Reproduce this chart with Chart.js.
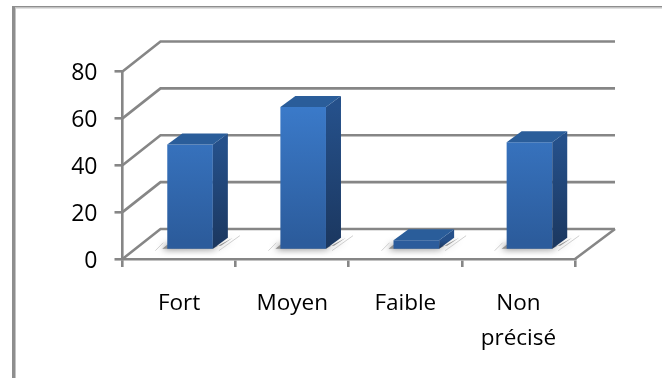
<!DOCTYPE html>
<html>
<head>
<meta charset="utf-8">
<style>
  body { margin: 0; background: #fff; }
  canvas { display: block; }
</style>
<script src="https://cdn.jsdelivr.net/npm/chart.js@4"></script>
</head>
<body>
<canvas id="chart" width="662" height="378"></canvas>
<script>
const categories = ['Fort', 'Moyen', 'Faible', ['Non', 'précisé']];
const values = [45, 61, 4.2, 46];
const yTicks = [0, 20, 40, 60, 80];

const GREY = '#868686';
const WALL_DX = 38, WALL_DY = -30;     // how far the back wall sits behind the axis
const BAR_DX = 11, BAR_DY = -9;        // bars stand in the middle of the floor
const SIDE_DX = 15, SIDE_DY = -11;     // depth of a bar

// frame around the chart, only left and top show
const framePlugin = {
  id: 'frame',
  beforeDraw(chart) {
    const ctx = chart.ctx;
    ctx.save();
    ctx.fillStyle = '#8e8e8e';
    ctx.fillRect(12, 6, 3, 372);
    ctx.fillRect(12, 6, 650, 1.5);
    ctx.fillStyle = '#c4c4c4';
    ctx.fillRect(15, 7, 1, 371);
    ctx.fillRect(15, 7.5, 647, 1);
    ctx.restore();
  }
};

// back wall, side wall and floor lines
const wallPlugin = {
  id: 'walls',
  beforeDatasetsDraw(chart) {
    const ctx = chart.ctx;
    const { left, right, bottom } = chart.chartArea;
    ctx.save();
    ctx.strokeStyle = GREY;
    ctx.lineWidth = 2.6;
    yTicks.forEach(t => {
      const y = chart.scales.y.getPixelForValue(t);
      ctx.beginPath();
      ctx.moveTo(left, y);
      ctx.lineTo(left + WALL_DX, y + WALL_DY);
      ctx.lineTo(right + 40, y + WALL_DY);
      ctx.stroke();
    });
    ctx.beginPath();
    ctx.moveTo(right, bottom);
    ctx.lineTo(right + 40, bottom + WALL_DY);
    ctx.stroke();
    ctx.restore();
  }
};

// turns the flat bars into boxes with a small shadow on the floor
const boxPlugin = {
  id: 'boxes',
  beforeDatasetDraw(chart) {
    const ctx = chart.ctx;
    const bars = chart.getDatasetMeta(0).data;
    ctx.save();
    ctx.translate(BAR_DX, BAR_DY);
    bars.forEach(bar => {
      const l = bar.x - bar.width / 2, r = bar.x + bar.width / 2, b = bar.base;
      // white patch on the floor
      ctx.fillStyle = '#ffffff';
      ctx.beginPath();
      ctx.moveTo(l - 12, b + 2);
      ctx.lineTo(l, b - 9);
      ctx.lineTo(r + 27, b - 14);
      ctx.lineTo(r + 10, b + 2);
      ctx.closePath();
      ctx.fill();
      // soft shadow
      ctx.save();
      ctx.shadowColor = 'rgba(0,0,0,0.7)';
      ctx.shadowBlur = 7;
      ctx.fillStyle = '#8f8f8f';
      ctx.beginPath();
      ctx.moveTo(l - 5, b);
      ctx.lineTo(r, b);
      ctx.lineTo(r + SIDE_DX + 5, b + SIDE_DY);
      ctx.lineTo(r + 8, b - 3);
      ctx.lineTo(l, b - 4);
      ctx.closePath();
      ctx.fill();
      ctx.restore();
      // thin outlines of the patch
      ctx.strokeStyle = '#cfcfcf';
      ctx.lineWidth = 1;
      ctx.beginPath();
      ctx.moveTo(l - 12, b + 2);
      ctx.lineTo(l - 4, b - 6);
      ctx.moveTo(r + 6, b + 2);
      ctx.lineTo(r + 27, b - 13);
      ctx.stroke();
    });
    return true;
  },
  afterDatasetDraw(chart) {
    const ctx = chart.ctx;
    const bars = chart.getDatasetMeta(0).data;
    bars.forEach(bar => {
      const r = bar.x + bar.width / 2, l = bar.x - bar.width / 2;
      const side = ctx.createLinearGradient(0, bar.y, 0, bar.base);
      side.addColorStop(0, '#25508a');
      side.addColorStop(1, '#1b375f');
      ctx.fillStyle = side;
      ctx.beginPath();
      ctx.moveTo(r, bar.y);
      ctx.lineTo(r + SIDE_DX, bar.y + SIDE_DY);
      ctx.lineTo(r + SIDE_DX, bar.base + SIDE_DY);
      ctx.lineTo(r, bar.base);
      ctx.closePath();
      ctx.fill();
      ctx.fillStyle = '#2a5d9a';
      ctx.beginPath();
      ctx.moveTo(l, bar.y);
      ctx.lineTo(l + SIDE_DX, bar.y + SIDE_DY);
      ctx.lineTo(r + SIDE_DX, bar.y + SIDE_DY);
      ctx.lineTo(r, bar.y);
      ctx.closePath();
      ctx.fill();
    });
    ctx.restore();
  }
};

new Chart(document.getElementById('chart').getContext('2d'), {
  type: 'bar',
  data: {
    labels: categories,
    datasets: [{
      data: values,
      barPercentage: 0.403,
      categoryPercentage: 1,
      backgroundColor(c) {
        const area = c.chart.chartArea;
        if (!area) return '#3670b8';
        const g = c.chart.ctx.createLinearGradient(0, area.top + 30, 0, area.bottom - 9);
        g.addColorStop(0, '#3c7dce');
        g.addColorStop(1, '#2c5c9c');
        return g;
      }
    }]
  },
  options: {
    responsive: false,
    animation: false,
    layout: { padding: { top: 71.5, right: 87, bottom: 0, left: 0 } },
    plugins: { legend: { display: false }, tooltip: { enabled: false } },
    scales: {
      x: {
        afterFit(scale) { scale.height = 119; },
        grid: { drawOnChartArea: false, color: GREY, lineWidth: 2.6, tickLength: 8, offset: true },
        border: { color: GREY, width: 2.6 },
        ticks: {
          color: '#000000',
          padding: 19,
          maxRotation: 0,
          font: { family: '"Open Sans"', size: 22.5, lineHeight: 1.55 }
        }
      },
      y: {
        min: 0,
        max: 80,
        afterFit(scale) { scale.width = 122.5; },
        afterBuildTicks(scale) { scale.ticks = yTicks.map(v => ({ value: v })); },
        grid: { drawOnChartArea: false, color: GREY, lineWidth: 2.6, tickLength: 8 },
        border: { color: GREY, width: 2.6 },
        ticks: {
          color: '#000000',
          padding: 17,
          labelOffset: 2,
          font: { family: '"Open Sans"', size: 23 }
        }
      }
    }
  },
  plugins: [framePlugin, wallPlugin, boxPlugin]
});
</script>
</body>
</html>
